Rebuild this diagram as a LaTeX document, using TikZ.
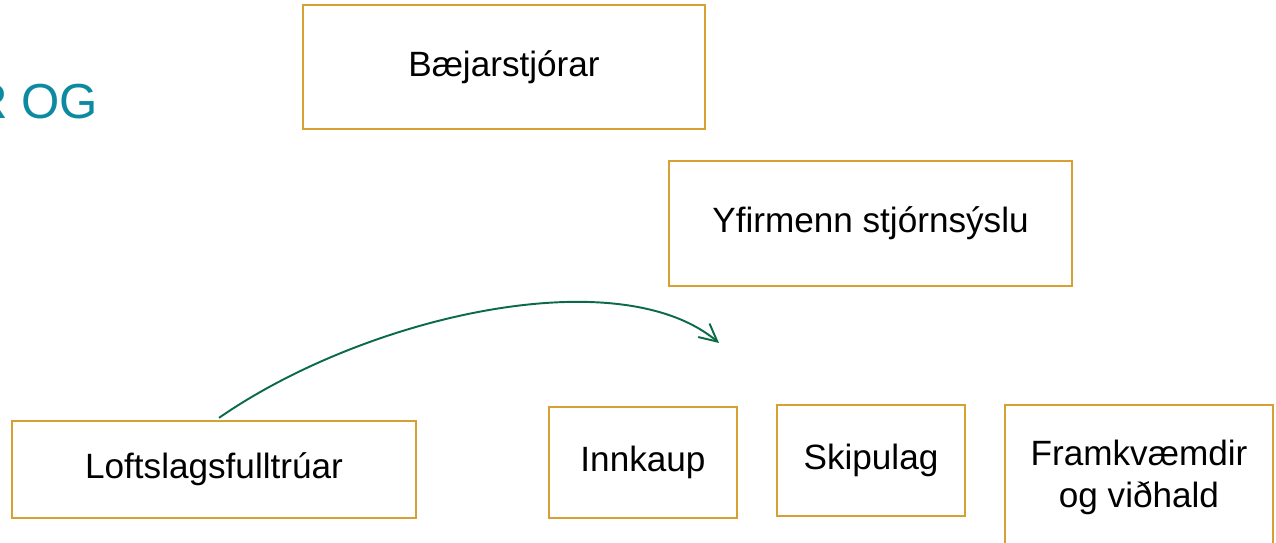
\documentclass[tikz,border=0pt]{standalone}
\usepackage{fontspec}
\setmainfont{Liberation Sans}
\usetikzlibrary{arrows.meta}
\definecolor{boxgold}{RGB}{214,160,50}
\definecolor{titleteal}{RGB}{12,139,160}
\definecolor{arrowgreen}{RGB}{10,107,70}
\tikzset{
  unit/.style={draw=boxgold, line width=1.3pt, fill=white, align=center,
    inner sep=0pt, font=\fontsize{20}{24}\selectfont},
  link/.style={draw=arrowgreen, line width=1.1pt,
    -{Straight Barb[length=10pt,width=10pt]}}
}
\begin{document}
\begin{tikzpicture}[x=0.02cm,y=-0.02cm]
      \useasboundingbox (0,0) rectangle (1276,543);
      \clip (0,0) rectangle (1276,543);
      \node[anchor=base east, text=titleteal, font=\fontsize{28}{33}\selectfont] (title) at (104,119) {R OG};
      \node[unit, minimum width=8.04cm, minimum height=2.48cm] (baej) at (504,67) {Bæjarstjórar};
      \node[unit, minimum width=8.06cm, minimum height=2.5cm] (yfir) at (870.5,223.5) {Yfirmenn stjórnsýslu};
      \node[unit, minimum width=8.08cm, minimum height=1.94cm] (loft) at (214,469.5) {Loftslagsfulltrúar};
      \node[unit, minimum width=3.76cm, minimum height=2.22cm] (innk) at (643,462.5) {Innkaup};
      \node[unit, minimum width=3.76cm, minimum height=2.22cm] (skip) at (871,460.5) {Skipulag};
      \node[unit, minimum width=5.36cm, minimum height=2.9cm] (fram) at (1139,477.5) {Framkvæmdir\\og viðhald};
      \coordinate (tip) at (719,343);
      \begin{scope}[link]
        \draw ([xshift=0.1cm,yshift=0.04cm]loft.north) .. controls (366,316) and (619,259) .. (tip);
      \end{scope}
    \end{tikzpicture}
\end{document}
